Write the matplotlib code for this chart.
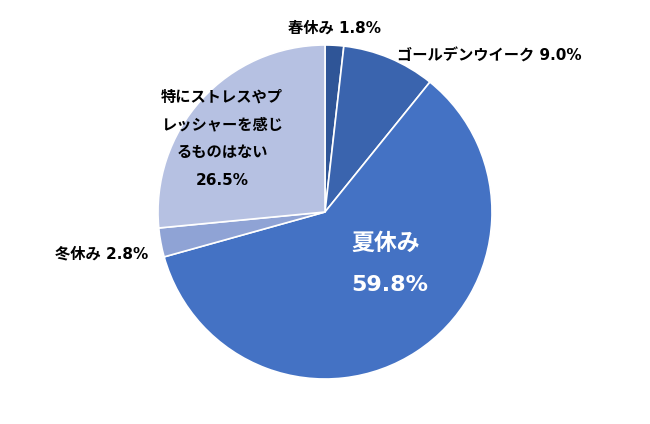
import matplotlib.pyplot as plt

# Latin/digits from DejaVu (close to the Verdana-like look), CJK falls back to Noto
plt.rcParams["font.family"] = ["DejaVu Sans", "Noto Sans CJK JP"]

labels = ["春休み", "ゴールデンウイーク", "夏休み", "冬休み", "特にストレスやプレッシャーを感じるものはない"]
values = [1.8, 9.0, 59.8, 2.8, 26.5]
colors = ["#2F5597", "#3A64AE", "#4472C4", "#8FA3D5", "#B6C1E2"]

W, H = 650, 424
CX, CY, R = 325, 212, 167


def px(x, y):
    """Pixel position (from top-left) to data coords, pie radius = 1."""
    return (x - CX) / R, (CY - y) / R


fig = plt.figure(figsize=(W / 100, H / 100), dpi=100)
ax = fig.add_axes([0, 0, 1, 1])
ax.pie(values, colors=colors, startangle=90, counterclock=False,
       radius=1, wedgeprops={"edgecolor": "white", "linewidth": 1.2})
ax.set_xlim(-CX / R, (W - CX) / R)
ax.set_ylim(-(H - CY) / R, CY / R)
ax.set_aspect("equal")
ax.axis("off")

txt = dict(ha="center", va="center", fontsize=11, fontweight="bold", color="black")
ax.text(*px(335, 28), f"{labels[0]} {values[0]}%", **txt)
ax.text(*px(489, 56), f"{labels[1]} {values[1]}%", **txt)
ax.text(*px(102, 254), f"{labels[3]} {values[3]}%", **txt)
for i, line in enumerate(["特にストレスやプ", "レッシャーを感じ", "るものはない", f"{values[4]}%"]):
    ax.text(*px(222, 97 + i * 27.7), line, **txt)
ax.text(*px(386, 243), labels[2], ha="center", va="center", fontsize=16.5,
        fontweight="bold", color="white")
ax.text(*px(390, 285), f"{values[2]}%", ha="center", va="center", fontsize=16,
        fontweight="bold", color="white")

fig.savefig("out.png", dpi=100)
